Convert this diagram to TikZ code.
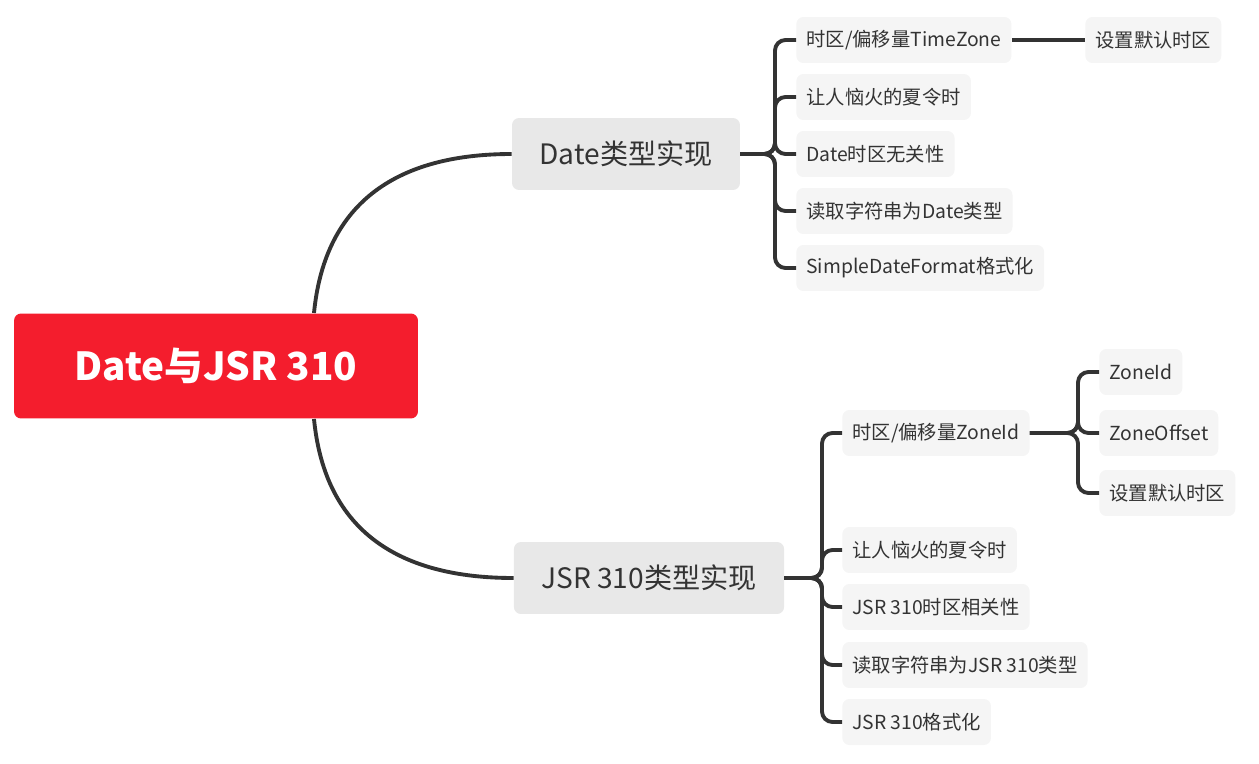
\documentclass[tikz,border=0pt]{standalone}
\usepackage{fontspec}
\setmainfont{Noto Sans CJK SC}
\usetikzlibrary{positioning}
\definecolor{rootred}{HTML}{F41D2D}
\definecolor{topicgray}{HTML}{E8E8E8}
\definecolor{leafgray}{HTML}{F5F5F5}
\definecolor{linegray}{HTML}{333333}
\begin{document}
\begin{tikzpicture}[x=0.02cm,y=-0.02cm]
	\tikzstyle{Root}   = [fill=rootred, text=white, rounded corners=4pt, minimum width=8.08cm, minimum height=2.1cm, font=\fontsize{22}{26}\selectfont\bfseries]
	\tikzstyle{Topic}  = [fill=topicgray, rounded corners=4pt, minimum height=1.44cm, inner xsep=0.55cm, font=\fontsize{16}{19}\selectfont, text=linegray]
	\tikzstyle{Leaf}   = [fill=leafgray, rounded corners=4pt, minimum height=0.92cm, inner xsep=0.2cm, font=\fontsize{11}{13}\selectfont, text=linegray, anchor=west]
	\tikzstyle{Branch} = [draw=linegray, line width=2.2pt, rounded corners=6pt]

	\useasboundingbox (0,0) rectangle (1259,764);

	\node (root) at (216,366) [Root] {Date与JSR 310};
	\node (date) at (626,154) [Topic] {Date类型实现};
	\node (jsr)  at (649,578) [Topic] {JSR 310类型实现};

	% Date branch
	\node (d1) at (796,40)  [Leaf] {时区/偏移量TimeZone};
	\node (d2) at (796,97)  [Leaf] {让人恼火的夏令时};
	\node (d3) at (796,154) [Leaf] {Date时区无关性};
	\node (d4) at (796,211) [Leaf] {读取字符串为Date类型};
	\node (d5) at (796,268) [Leaf] {SimpleDateFormat格式化};
	\node (d1a) at (1085,40) [Leaf] {设置默认时区};

	% JSR 310 branch
	\node (j1) at (842,433) [Leaf] {时区/偏移量ZoneId};
	\node (j2) at (842,550) [Leaf] {让人恼火的夏令时};
	\node (j3) at (842,607) [Leaf] {JSR 310时区相关性};
	\node (j4) at (842,665) [Leaf] {读取字符串为JSR 310类型};
	\node (j5) at (842,722) [Leaf] {JSR 310格式化};
	\node (j1a) at (1099,372) [Leaf] {ZoneId};
	\node (j1b) at (1099,433) [Leaf] {ZoneOffset};
	\node (j1c) at (1099,493) [Leaf] {设置默认时区};

	\draw [Branch] (314,313) .. controls (325,200) and (400,154) .. (date.west);
	\draw [Branch] (314,419) .. controls (325,532) and (400,578) .. (jsr.west);

	\foreach \c in {d1,d2,d3,d4,d5}
		\draw [Branch] (date.east) -- (775,154) |- (\c.west);
	\draw [Branch] (d1.east) -- (d1a.west);

	\foreach \c in {j1,j2,j3,j4,j5}
		\draw [Branch] (jsr.east) -- (822,578) |- (\c.west);
	\foreach \c in {j1a,j1b,j1c}
		\draw [Branch] (j1.east) -- (1078,433) |- (\c.west);
\end{tikzpicture}
\end{document}
